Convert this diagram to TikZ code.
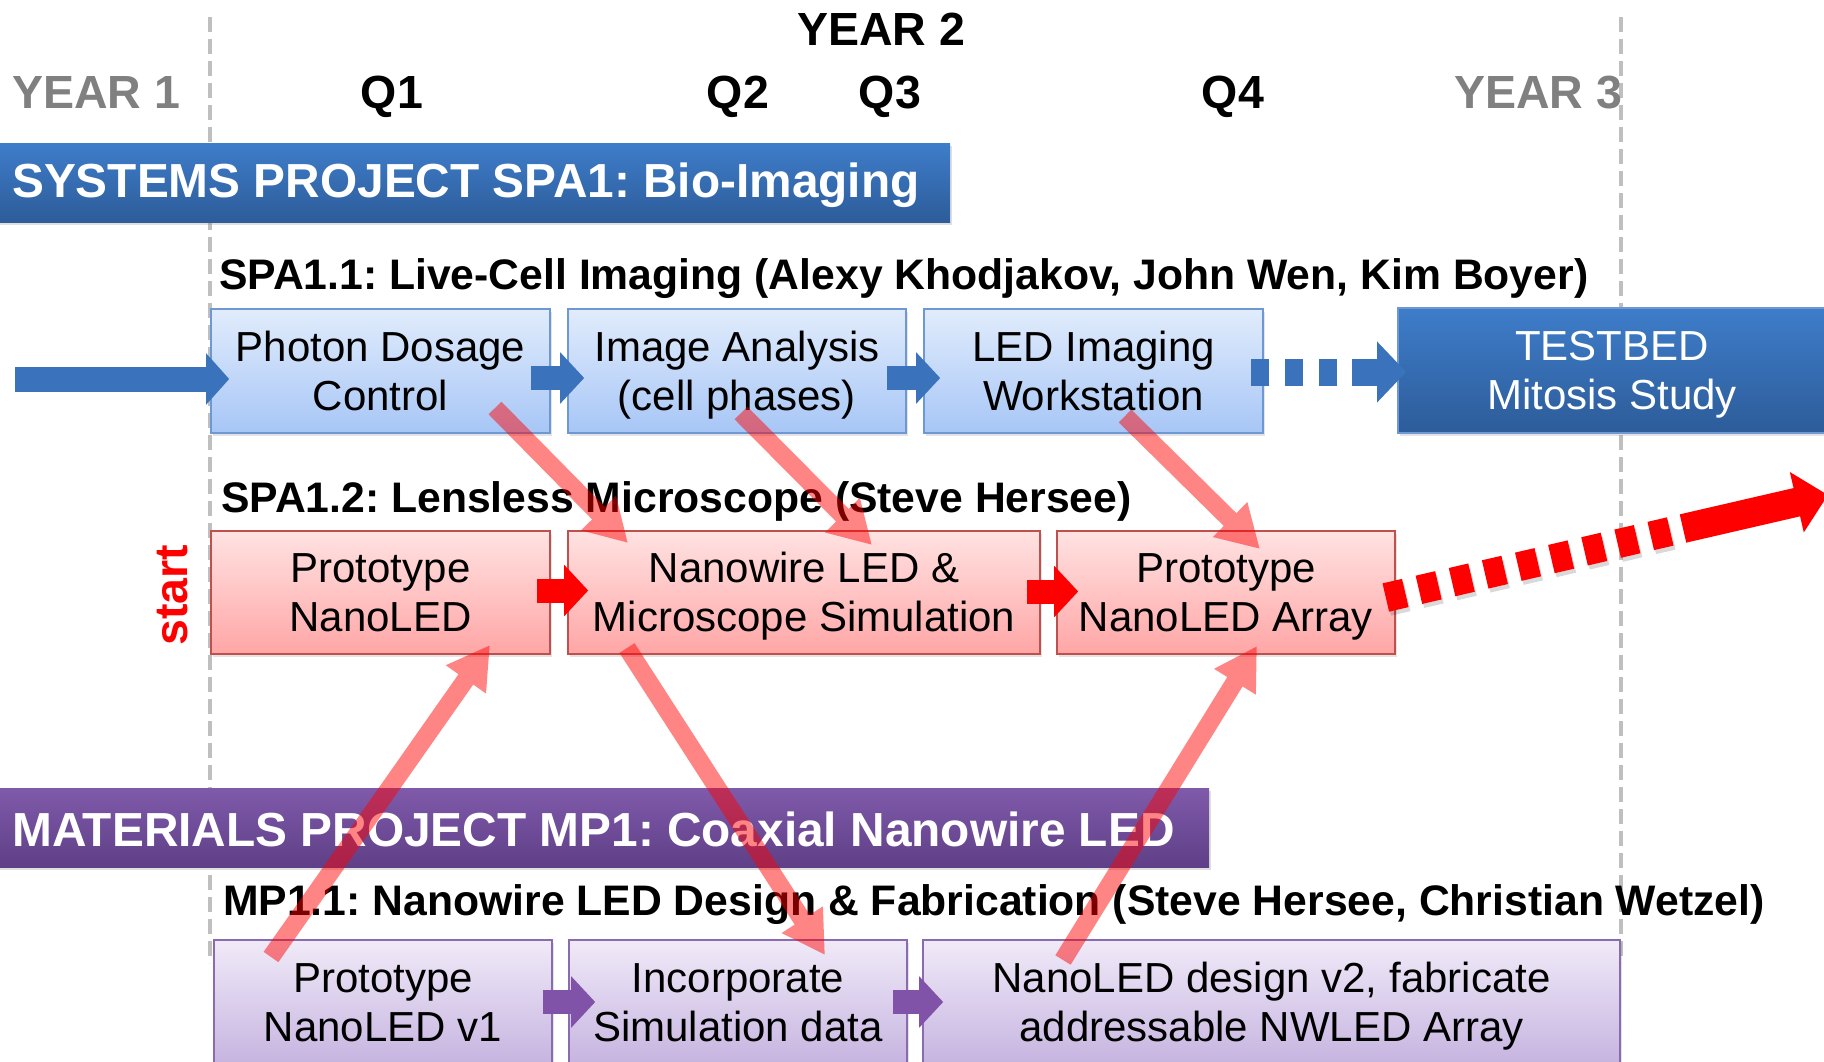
\documentclass[tikz,border=0pt]{standalone}
\usepackage{fontspec}
\setmainfont{Liberation Sans}
\usetikzlibrary{arrows.meta,calc,shadows}

\definecolor{gridgray}{HTML}{BFBFBF}
\definecolor{yeargray}{HTML}{808080}
\definecolor{bluetop}{HTML}{E1ECFC}
\definecolor{bluebot}{HTML}{A7C6F6}
\definecolor{blueline}{HTML}{6E98D4}
\definecolor{redtop}{HTML}{FFE2E2}
\definecolor{redbot}{HTML}{FFA6A6}
\definecolor{redline}{HTML}{C0504D}
\definecolor{purtop}{HTML}{F0EAF8}
\definecolor{purbot}{HTML}{C6B4E0}
\definecolor{purline}{HTML}{8A6BB0}
\definecolor{darkbluetop}{HTML}{3E7DCA}
\definecolor{darkbluebot}{HTML}{2D5C99}
\definecolor{purbannertop}{HTML}{7F5AAA}
\definecolor{purbannerbot}{HTML}{5F3F87}
\definecolor{arrowblue}{HTML}{3A72BC}
\definecolor{arrowpurple}{HTML}{8052A8}

\frenchspacing
\newcommand\boxfont{\fontsize{42}{49}\selectfont}
\newcommand\lblfont{\fontsize{42.7}{48}\selectfont\bfseries}
\newcommand\yearfont{\fontsize{46.5}{54}\selectfont\bfseries}
\newcommand\bannerfont{\fontsize{47.8}{55}\selectfont\bfseries}
\newcommand\ls{\rule[-10pt]{0pt}{49pt}}

\tikzset{
  taskbox/.style={draw, line width=1.6pt, minimum height=124pt, inner sep=0pt,
    align=center, font=\boxfont,
    drop shadow={shadow xshift=2pt, shadow yshift=-3pt, opacity=.22}},
  bluebox/.style={taskbox, draw=blueline, top color=bluetop, bottom color=bluebot},
  redbox/.style={taskbox, draw=redline, top color=redtop, bottom color=redbot},
  purbox/.style={taskbox, draw=purline, top color=purtop, bottom color=purbot},
  banner/.style={inner sep=0pt, anchor=north west,
    drop shadow={shadow xshift=2pt, shadow yshift=-3pt, opacity=.25}},
  bannertext/.style={anchor=base west, inner sep=0pt, text=white, font=\bannerfont},
  tasklabel/.style={anchor=base west, inner sep=0pt, font=\lblfont},
  yearlabel/.style={anchor=base, inner sep=0pt, font=\yearfont},
  yeardivider/.style={draw=gridgray, line width=3.5pt, dash pattern=on 15pt off 7pt},
  flowarrow/.style={line width=24pt, -{Triangle[width=50pt,length=24pt]}},
  linkarrow/.style={line width=18pt, -{Triangle[width=46pt,length=42pt]}},
}

\begin{document}
\begin{tikzpicture}[x=1pt, y=-1pt]
\useasboundingbox (0,0) rectangle (1824,1061);
\clip (0,0) rectangle (1824,1061);

% year dividers
\draw[yeardivider] (210,17) -- (210,963);
\draw[yeardivider] (1621,17) -- (1621,963);

% time axis
\node[yearlabel] (y2) at (881,45) {YEAR 2};
\node[yearlabel, text=yeargray] (y1) at (96,108) {YEAR 1};
\node[yearlabel] (q1) at (392,108) {Q1};
\node[yearlabel] (q2) at (738,108) {Q2};
\node[yearlabel] (q3) at (890,108) {Q3};
\node[yearlabel] (q4) at (1233,108) {Q4};
\node[yearlabel, text=yeargray] (y3) at (1538,108) {YEAR 3};

% systems project banner
\node[banner, minimum width=955pt, minimum height=79pt,
      top color=darkbluetop, bottom color=darkbluebot] (spa) at (-5,143) {};
\node[bannertext] (spatext) at (12,197) {SYSTEMS PROJECT SPA1: Bio-Imaging};

% SPA1.1
\node[tasklabel] (spa11) at (219,289) {SPA1.1: Live-Cell Imaging (Alexy Khodjakov, John Wen, Kim Boyer)};
\node[bluebox, minimum width=339pt] (pdc) at (380.5,371) {\ls Photon Dosage\\\ls Control};
\node[bluebox, minimum width=338pt] (ia) at (737,371) {\ls Image Analysis\\\ls (cell phases)};
\node[bluebox, minimum width=339pt] (lw) at (1093.5,371) {\ls LED Imaging\\\ls Workstation};
\node[taskbox, draw=blueline, top color=darkbluetop, bottom color=darkbluebot,
      text=white, minimum width=428pt, minimum height=125pt] (tb) at (1612,370.5)
      {\ls TESTBED\\\ls Mitosis Study};

\coordinate (entry) at (15,379);
\draw[arrowblue, line width=25pt, -{Triangle[width=50pt,length=23pt]}]
  (entry) -- ($(pdc.west)+(19,8)$);
\draw[arrowblue, flowarrow] ($(pdc.east)+(-20,7)$) -- ($(ia.west)+(17,7)$);
\draw[arrowblue, flowarrow] ($(ia.east)+(-20,7)$) -- ($(lw.west)+(17,7)$);
\coordinate (tbdash) at (1352,372);
\draw[arrowblue, line width=27pt, dash pattern=on 18pt off 16pt]
  ($(lw.east)+(-13,1)$) -- (tbdash);
\draw[arrowblue, line width=27pt, -{Triangle[width=59pt,length=29pt]}]
  (tbdash) -- ($(tb.west)+(9,1.5)$);

% SPA1.2
\node[tasklabel] (spa12) at (221,512) {SPA1.2: Lensless Microscope (Steve Hersee)};
\node[redbox, minimum width=339pt, minimum height=123pt] (pn) at (380.5,592.5) {\ls Prototype\\\ls NanoLED};
\node[redbox, minimum width=472pt, minimum height=123pt] (nw) at (804,592.5) {\ls Nanowire LED \&\\\ls Microscope Simulation};
\node[redbox, minimum width=338pt, minimum height=123pt] (arr) at (1226,592.5) {\ls Prototype\\\ls NanoLED Array};
\node[anchor=base, inner sep=0pt, rotate=90, text=red, font=\yearfont] (start) at (187,595) {start};

\draw[red, flowarrow] ($(pn.east)+(-14,-2)$) -- ($(nw.west)+(21,-2)$);
\draw[red, flowarrow] ($(nw.east)+(-14,-1)$) -- ($(arr.west)+(22,-1)$);

% continuation beyond year 2
\coordinate (arrdash) at (1683,528.5);
\coordinate (arrtip) at (1828,495);
\draw[black, opacity=.15, line width=29pt, dash pattern=on 20pt off 14pt]
  ($(arr.east)+(-8,9)$) -- ($(arrdash)+(2,4)$);
\draw[red, line width=29pt, dash pattern=on 20pt off 14pt]
  ($(arr.east)+(-10,5)$) -- (arrdash);
\draw[red, line width=29pt, -{Triangle[width=60pt,length=32pt]}] (arrdash) -- (arrtip);

% materials project banner
\node[banner, minimum width=1214pt, minimum height=79pt,
      top color=purbannertop, bottom color=purbannerbot] (mp) at (-5,788) {};
\node[bannertext] (mptext) at (12,846) {MATERIALS PROJECT MP1: Coaxial Nanowire LED};

% MP1.1
\node[tasklabel] (mp11) at (223,915) {MP1.1: Nanowire LED Design \& Fabrication (Steve Hersee, Christian Wetzel)};
\node[purbox, minimum width=338pt] (v1) at (383,1002) {\ls Prototype\\\ls NanoLED v1};
\node[purbox, minimum width=338pt] (inc) at (738,1002) {\ls Incorporate\\\ls Simulation data};
\node[purbox, minimum width=697pt] (v2) at (1271.5,1002) {\ls NanoLED design v2, fabricate\\\ls addressable NWLED Array};

\draw[arrowpurple, flowarrow] ($(v1.east)+(-10,0)$) -- ($(inc.west)+(27,0)$);
\draw[arrowpurple, flowarrow] ($(inc.east)+(-15,0)$) -- ($(v2.west)+(21,0)$);

% cross-project dependencies
\coordinate (d1a) at (495,408);  \coordinate (d1b) at (628,543);
\coordinate (d2a) at (741,413);  \coordinate (d2b) at (872,545);
\coordinate (d3a) at (1125,416); \coordinate (d3b) at (1260,549);
\coordinate (d4a) at (271,957);  \coordinate (d4b) at (490,645);
\coordinate (d5a) at (627,648);  \coordinate (d5b) at (825,955);
\coordinate (d6a) at (1063,960); \coordinate (d6b) at (1257,646);
\begin{scope}[transparency group, opacity=.48]
  \draw[red, linkarrow] (d1a) -- (d1b);
  \draw[red, linkarrow] (d2a) -- (d2b);
  \draw[red, linkarrow] (d3a) -- (d3b);
  \draw[red, linkarrow] (d4a) -- (d4b);
  \draw[red, linkarrow] (d5a) -- (d5b);
  \draw[red, linkarrow] (d6a) -- (d6b);
\end{scope}
\end{tikzpicture}
\end{document}
